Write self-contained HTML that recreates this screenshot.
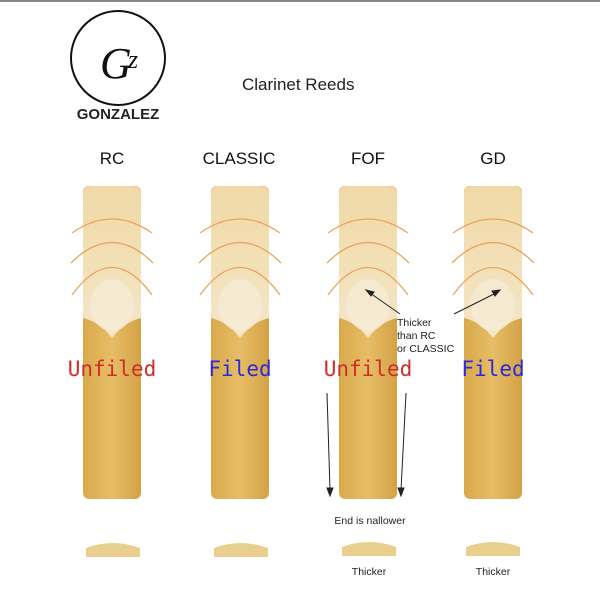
<!DOCTYPE html>
<html><head><meta charset="utf-8"><style>
html,body{margin:0;padding:0;background:#fff;}
svg{display:block}
.s{font-family:"Liberation Sans",sans-serif;}
.m{font-family:"DejaVu Sans Mono",monospace;}
</style></head><body>
<svg width="600" height="600" viewBox="0 0 600 600" xmlns="http://www.w3.org/2000/svg">
<defs>
<linearGradient id="lower" x1="0" x2="1">
<stop offset="0" stop-color="#d9a94c"/><stop offset="0.5" stop-color="#e6bd66"/><stop offset="1" stop-color="#d4a245"/>
</linearGradient>
<linearGradient id="upper" x1="0" x2="0" y1="0" y2="1">
<stop offset="0" stop-color="#f0d9a6"/><stop offset="1" stop-color="#f4e6c8"/>
</linearGradient>
<g id="reed">
<rect x="-29" y="186" width="58" height="313" rx="6" fill="url(#lower)"/>
<path d="M-29,194 Q-29,186 -20,186 L20,186 Q29,186 29,194 L29,318 Q12,322 0,338 Q-12,322 -29,318 Z" fill="url(#upper)"/>
<ellipse cx="0" cy="305" rx="22" ry="26" fill="#f7eedc" opacity="0.6"/>
<g fill="none" stroke="#eba45a" stroke-width="1.3">
<path d="M-40,233 Q0,205 40,233"/>
<path d="M-41,263 Q0,222 41,263"/>
<path d="M-40,295 Q0,240 40,295"/>
</g>
</g>
<g id="xs"><path d="M-27,557 L-27,548 Q0,538 27,548 L27,557 Z" fill="#e9cf8e"/></g>
</defs>
<rect x="0" y="0" width="600" height="2" fill="#888"/>
<circle cx="118" cy="58" r="47" fill="none" stroke="#111" stroke-width="2"/>
<text x="100" y="78" style="font-family:'Liberation Serif',serif;font-style:italic" font-size="44" fill="#111">G</text>
<text x="128" y="68" style="font-family:'Liberation Serif',serif;font-style:italic" font-size="26" fill="#111">z</text>
<g class="s">
<text x="118" y="119" font-size="15" font-weight="bold" text-anchor="middle" fill="#222">GONZALEZ</text>
<text x="242" y="90" font-size="17" fill="#222">Clarinet Reeds</text>
<text x="112" y="164" font-size="17" text-anchor="middle" fill="#111">RC</text>
<text x="239" y="164" font-size="17" text-anchor="middle" fill="#111">CLASSIC</text>
<text x="368" y="164" font-size="17" text-anchor="middle" fill="#111">FOF</text>
<text x="493" y="164" font-size="17" text-anchor="middle" fill="#111">GD</text>
</g>
<use href="#reed" transform="translate(112,0)"/>
<use href="#reed" transform="translate(240,0)"/>
<use href="#reed" transform="translate(368,0)"/>
<use href="#reed" transform="translate(493,0)"/>
<g class="m" font-size="21" text-anchor="middle">
<text x="112" y="376" fill="#d02c2c">Unfiled</text>
<text x="240" y="376" fill="#2a2ad8">Filed</text>
<text x="368" y="376" fill="#d02c2c">Unfiled</text>
<text x="493" y="376" fill="#2a2ad8">Filed</text>
</g>
<text class="s" font-size="10.5" fill="#222"><tspan x="397" y="326">Thicker</tspan><tspan x="397" y="339">than RC</tspan><tspan x="397" y="352">or CLASSIC</tspan></text>
<g stroke="#222" stroke-width="1" fill="#222">
<line x1="400" y1="314" x2="370" y2="293"/><path d="M366,290 L374,292 L371,296 Z"/>
<line x1="454" y1="314" x2="496" y2="293"/><path d="M500,290 L492,291 L495,296 Z"/>
<line x1="327" y1="393" x2="330" y2="490"/><path d="M327,488 L333,488 L330,496 Z"/>
<line x1="406" y1="393" x2="401" y2="490"/><path d="M398,488 L404,488 L401,496 Z"/>
</g>
<g class="s" font-size="10.5" text-anchor="middle" fill="#222">
<text x="370" y="524">End is nallower</text>
<text x="369" y="575">Thicker</text>
<text x="493" y="575">Thicker</text>
</g>
<use href="#xs" transform="translate(113,0)"/>
<use href="#xs" transform="translate(241,0)"/>
<use href="#xs" transform="translate(369,-1)"/>
<use href="#xs" transform="translate(493,-1)"/>
</svg>
</body></html>
